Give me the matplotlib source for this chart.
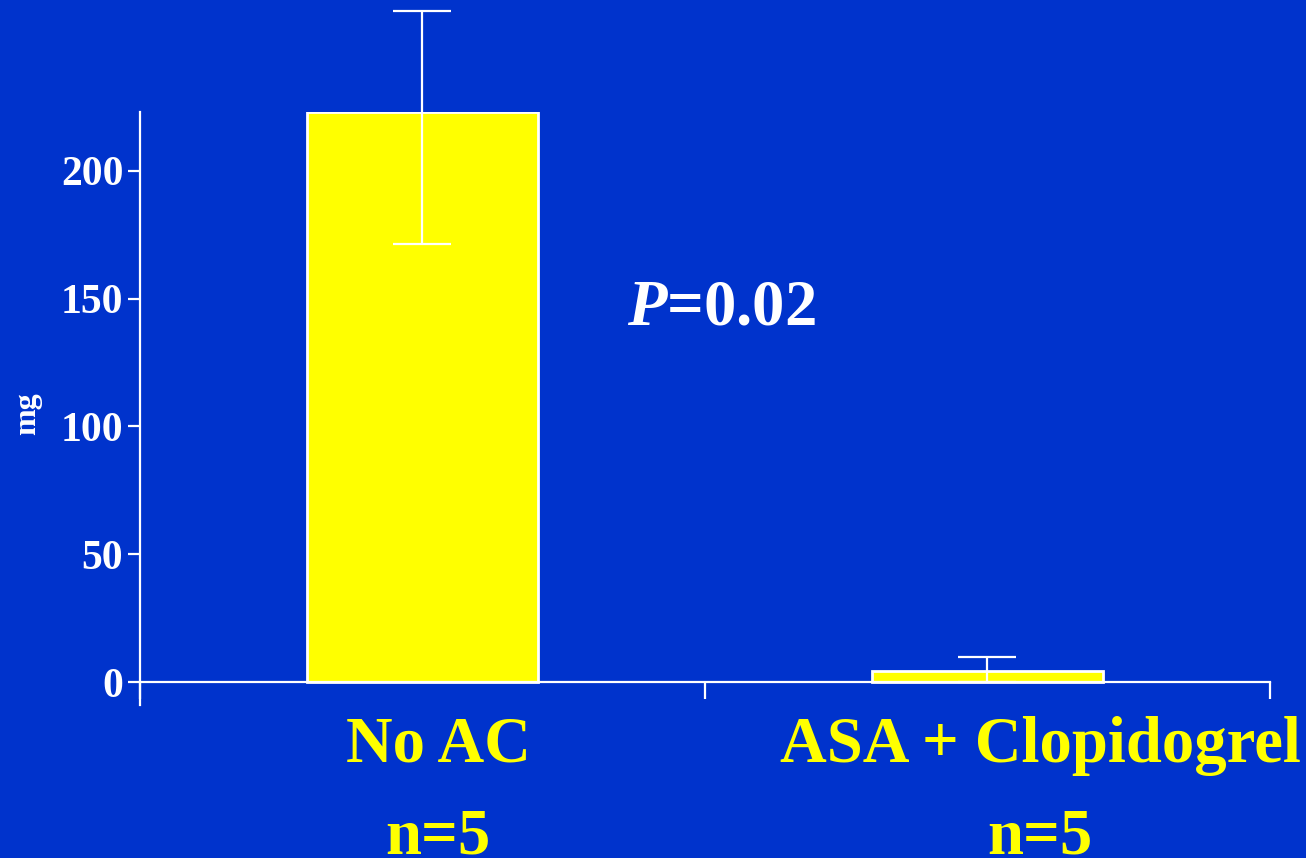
import matplotlib.pyplot as plt
import numpy as np

# 데이터
groups = ['No AC', 'ASA + Clopidogrel']
n_labels = ['n=5', 'n=5']
means = [223, 4.3]
err_low = [51.6, 4.3]
err_high = [39.6, 5.5]
yticks = [0, 50, 100, 150, 200]

bg = '#0033CC'
yellow = '#FFFF00'

plt.rcParams['font.family'] = ['Liberation Serif', 'DejaVu Serif']
plt.rcParams['font.weight'] = 'bold'
plt.rcParams['mathtext.fontset'] = 'custom'
plt.rcParams['mathtext.it'] = 'Liberation Serif:italic:bold'
plt.rcParams['mathtext.rm'] = 'Liberation Serif:bold'

fig = plt.figure(figsize=(13.06, 8.58), dpi=100, facecolor=bg)
ax = fig.add_axes([0.1072, 0.1783, 0.8652, 0.6912], facecolor=bg)

x = np.arange(len(groups)) + 0.5
ax.bar(x, means, width=0.41, color=yellow, edgecolor='white', linewidth=2, zorder=2)
ax.errorbar(x, means, yerr=[err_low, err_high], fmt='none', ecolor='white',
            elinewidth=1.6, capsize=21, capthick=1.6, clip_on=False, zorder=3)

ax.set_xlim(0, 2)
ax.set_ylim(-9, 223)

for s in ['top', 'right']:
    ax.spines[s].set_visible(False)
ax.spines['bottom'].set_position(('data', 0))
for s in ['left', 'bottom']:
    ax.spines[s].set_color('white')
    ax.spines[s].set_linewidth(1.6)

ax.set_yticks(yticks)
ax.tick_params(axis='y', colors='white', length=9, width=1.6, pad=3, labelsize=30)
ax.set_xticks([0, 1, 2])
ax.set_xticklabels([])
ax.tick_params(axis='x', colors='white', length=12, width=1.6, direction='out')
for lbl in ax.get_yticklabels():
    lbl.set_fontweight('bold')

# 그룹 라벨 (막대 중심보다 약간 오른쪽)
label_x = [(438 - 140) / 565, (1040 - 140) / 565]
for xi, g, n in zip(label_x, groups, n_labels):
    ax.text(xi, -25, g, ha='center', va='center', color=yellow, fontsize=46.5,
            fontweight='bold', clip_on=False)
    ax.text(xi, -61, n, ha='center', va='center', color=yellow, fontsize=46.5,
            fontweight='bold', clip_on=False)

ax.text((721 - 140) / 565, 146, r'$P$=0.02', ha='center', va='center', color='white',
        fontsize=46.5, fontweight='bold')

fig.text(0.021, 0.518, 'mg', rotation=90, ha='center', va='center',
         color='white', fontsize=23, fontweight='bold')

plt.savefig('out.png', dpi=100, facecolor=bg)
